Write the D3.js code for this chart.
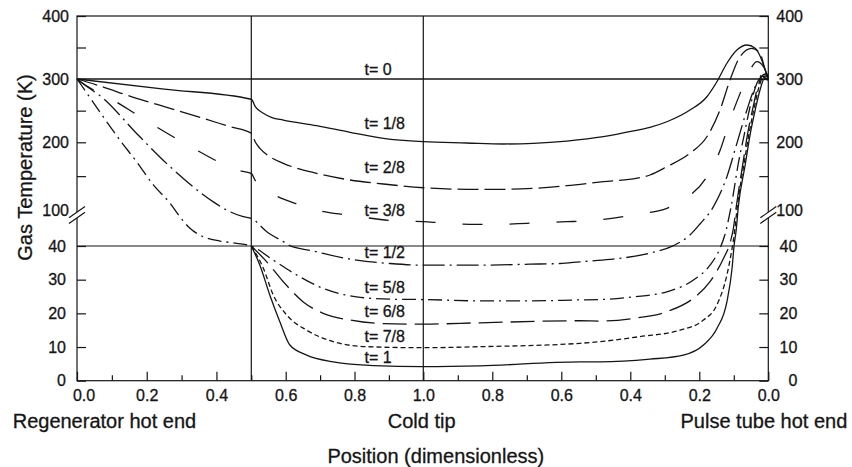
<!DOCTYPE html>
<html><head><meta charset="utf-8">
<script src="https://cdn.jsdelivr.net/npm/d3@7"></script>
<style>
body{margin:0;background:#fff;}
svg{display:block;font-family:"Liberation Sans",Arial,Helvetica,sans-serif;}
text{stroke:#151515;stroke-width:0.3px;}
</style></head><body>
<svg id="chart" width="852" height="467"></svg>
<script>
// Combined position s: 0..1 = regenerator (hot end -> cold tip),
// 1..2 = pulse tube (cold tip -> hot end); pulse tube coordinate = 2 - s.
const seriesNames = ["t= 0","t= 1/8","t= 2/8","t= 3/8","t= 1/2","t= 5/8","t= 6/8","t= 7/8","t= 1"];

const t0 = [[0,300],[2,300]];
const t1 = [[0,300],[0.25,284],[0.5,268],[0.512,256],[0.535,246],[0.56,239],[0.593,235.2],[0.69,226.2],[0.787,215.8],[0.884,206.3],[1,201],[1.126,199],[1.232,197.5],[1.319,198.5],[1.416,202],[1.522,208.8],[1.609,217.9],[1.657,223.7],[1.706,232.5],[1.773,251],[1.822,272],[1.851,295.7],[1.88,325],[1.909,346],[1.938,354],[1.962,348.7],[1.981,330],[1.991,314.3],[2,303.7]];
const t2 = [[0,300],[0.057,290.5],[0.171,269.5],[0.267,253.7],[0.362,237.9],[0.439,224.6],[0.5,214.2],[0.512,200],[0.525,191],[0.554,178.7],[0.593,169],[0.69,154.2],[0.787,144.3],[0.884,138.4],[1,132.9],[1.126,130.6],[1.232,130.6],[1.319,132],[1.416,135.9],[1.522,141.8],[1.62,147],[1.657,151.7],[1.706,164],[1.773,183.8],[1.822,208.8],[1.86,251],[1.889,298.4],[1.918,335.4],[1.952,348.7],[1.976,340.8],[1.991,314.3],[2,301]];
const t3 = [[0,300],[0.009,296],[0.1,268],[0.147,252.1],[0.219,227.3],[0.334,191.1],[0.405,171.3],[0.458,159],[0.5,154],[0.512,143],[0.525,137],[0.559,124.7],[0.642,107.4],[0.69,100],[0.777,91.7],[0.826,87.8],[0.923,81.7],[1,80.5],[1.048,78.8],[1.135,76.2],[1.222,76.2],[1.3,77.8],[1.416,80.5],[1.474,81.7],[1.561,87.2],[1.619,92.8],[1.706,102.5],[1.754,114.8],[1.822,149.2],[1.86,187.8],[1.889,235.2],[1.918,276.9],[1.947,314.3],[1.967,327.5],[1.986,319.5],[2,303.7]];
const t4 = [[0,300],[0.009,296],[0.075,269.5],[0.171,214],[0.267,164],[0.391,112],[0.429,100],[0.477,88.8],[0.5,86.2],[0.545,63.8],[0.593,47.2],[0.612,40.5],[0.69,38.3],[0.709,37.8],[0.806,35.8],[0.903,34.8],[1,34.3],[1.164,34.3],[1.309,34.6],[1.396,34.8],[1.454,35.3],[1.541,36],[1.657,37.9],[1.725,40.5],[1.773,58.3],[1.802,76.7],[1.841,104.9],[1.88,149.2],[1.909,198.5],[1.938,251],[1.962,287.8],[1.981,303.7],[1.994,304.8],[2,300]];
const t5 = [[0,300],[0.032,274.7],[0.075,240.4],[0.123,203.6],[0.171,171.3],[0.219,137],[0.267,109.9],[0.295,88.8],[0.324,69.5],[0.362,55.5],[0.41,48.3],[0.458,44.5],[0.5,40],[0.564,35.8],[0.632,31.4],[0.709,27.4],[0.806,24.9],[0.903,24.2],[1,24.1],[1.164,23.7],[1.309,23.7],[1.454,24],[1.512,24.1],[1.609,24.9],[1.706,26.4],[1.783,29.9],[1.831,34.3],[1.86,39.3],[1.874,58.3],[1.892,104.4],[1.915,173.9],[1.93,211.5],[1.947,255.8],[1.965,290.5],[1.98,306.3],[1.991,309.5],[2,300]];
const t6 = [[0.5,40],[0.545,35.3],[0.593,29.4],[0.651,23.4],[0.709,20],[0.787,18],[0.874,17],[1,16.8],[1.164,17.2],[1.454,17.8],[1.512,17.7],[1.609,18.5],[1.706,20.5],[1.783,24.5],[1.831,29.4],[1.87,36.3],[1.889,45],[1.898,66.7],[1.907,104.4],[1.928,173.9],[1.941,216.3],[1.956,255.8],[1.97,289],[1.982,304.8],[1.991,307.9],[2,300]];
const t7 = [[0.5,40],[0.535,33.4],[0.564,25.4],[0.603,19.5],[0.661,15],[0.738,11.6],[0.835,10.1],[1,9.8],[1.164,10.1],[1.454,11.1],[1.512,11.6],[1.628,13.1],[1.744,15],[1.812,18],[1.851,22.5],[1.88,31.4],[1.895,39.3],[1.901,58.3],[1.91,104.4],[1.93,169.4],[1.944,213],[1.959,254.2],[1.973,287.4],[1.985,303],[2,298]];
const t8 = [[0.5,40],[0.525,34.3],[0.554,25.4],[0.583,17.5],[0.612,10.6],[0.661,7.6],[0.738,5.6],[0.855,4.5],[1,4.2],[1.164,4.4],[1.454,5.6],[1.512,5.6],[1.657,6.4],[1.754,7.6],[1.812,10.6],[1.851,15.5],[1.88,23.4],[1.895,33.4],[1.901,41.7],[1.907,66.7],[1.913,104.4],[1.933,166.5],[1.947,211.5],[1.962,251],[1.976,282.6],[1.988,300],[2,298]];

const seriesData = [t0,t1,t2,t3,t4,t5,t6,t7,t8];
const seriesDash = [null,null,"21,6","20,27","22,5,2,5","14,5,2,5","24,8","5,3",null];

// series label anchors (position s, temperature K)
const labelPos = 0.829;
const labelTemps = [306,221,155,90,36.3,25.9,18.8,11.6,5.3];

// axis ticks
const xMajor = [0,0.2,0.4,0.6,0.8,1.0,1.2,1.4,1.6,1.8,2.0];
const xMinor = [0.1,0.3,0.5,0.7,0.9,1.1,1.3,1.5,1.7,1.9];
const yLowTicks = [0,10,20,30,40];
const yHighTicks = [100,150,200,250,300,350,400];
const yHighLabels = [100,200,300,400];

const ink = "#151515";
const svg = d3.select("#chart");
const x = d3.scaleLinear().domain([0,0.5,1,2]).range([77,251.3,423.3,768.3]);
const y = d3.scaleLinear().domain([0,40,100,200,300,400]).range([380.7,246,210,142.3,79,16]);

// frame
svg.append("rect").attr("x",x(0)).attr("y",y(400))
  .attr("width",x(2)-x(0)).attr("height",y(0)-y(400))
  .attr("fill","none").attr("stroke",ink).attr("stroke-width",1.2);

// reference lines
svg.append("line").attr("x1",x(0)).attr("x2",x(2)).attr("y1",y(40)).attr("y2",y(40))
  .attr("stroke",ink).attr("stroke-width",1.2);
[0.5,1].forEach(v=>{
  svg.append("line").attr("x1",x(v)).attr("x2",x(v)).attr("y1",y(0)).attr("y2",y(400))
    .attr("stroke",ink).attr("stroke-width",1.2);
});

// axes
function styleAxis(g){
  g.select(".domain").remove();
  g.style("color",ink).attr("font-size",16).attr("font-family","'Liberation Sans',Arial,Helvetica,sans-serif");
  g.selectAll(".tick line").attr("stroke-width",1.2);
}
const fmtX = v => (v<=1 ? v : 2-v).toFixed(1);
const axB = svg.append("g").attr("transform",`translate(0,${y(0)})`)
  .call(d3.axisBottom(x).tickValues(xMajor).tickFormat(fmtX).tickSize(-9).tickPadding(9)).call(styleAxis);
axB.selectAll(".tick text").filter(d=>d===0).attr("dx",6.5);
svg.append("g").attr("transform",`translate(0,${y(0)})`)
  .call(d3.axisBottom(x).tickValues(xMinor).tickFormat(()=>"").tickSize(-5.5)).call(styleAxis);

svg.append("g").attr("transform",`translate(${x(0)},0)`)
  .call(d3.axisLeft(y).tickValues(yLowTicks).tickSize(-9).tickPadding(11)).call(styleAxis);
const axLU = svg.append("g").attr("transform",`translate(${x(0)},0)`)
  .call(d3.axisLeft(y).tickValues(yHighTicks).tickFormat(v=>yHighLabels.includes(v)?v:"").tickSize(-9).tickPadding(8)).call(styleAxis);
axLU.selectAll(".tick").filter(d=>d===100).select("line").remove();

const axRL = svg.append("g").attr("transform",`translate(${x(2)},0)`)
  .call(d3.axisRight(y).tickValues(yLowTicks).tickSize(-9).tickPadding(11)).call(styleAxis);
axRL.selectAll(".tick text").attr("text-anchor","end").attr("x",29);
const axRU = svg.append("g").attr("transform",`translate(${x(2)},0)`)
  .call(d3.axisRight(y).tickValues(yHighTicks).tickFormat(v=>yHighLabels.includes(v)?v:"").tickSize(-9).tickPadding(8)).call(styleAxis);
axRU.selectAll(".tick").filter(d=>d===100).select("line").remove();

// axis breaks
[x(0),x(2)].forEach(cx=>{
  const cy = 215, h = 2.8, dx = 8, dy = 5.6;
  const A = [[cx-dx,cy+h+dy],[cx+dx,cy+h-dy]];
  const B = [[cx-dx,cy-h+dy],[cx+dx,cy-h-dy]];
  svg.append("polygon").attr("points",[A[0],A[1],B[1],B[0]].map(p=>p.join(",")).join(" "))
    .attr("fill","#fff");
  [A,B].forEach(L=>svg.append("line").attr("x1",L[0][0]).attr("y1",L[0][1]).attr("x2",L[1][0]).attr("y2",L[1][1])
    .attr("stroke",ink).attr("stroke-width",1.2));
});

// curves
const line = d3.line().x(d=>x(d[0])).y(d=>y(d[1])).curve(d3.curveMonotoneX);
seriesData.forEach((d,i)=>{
  svg.append("path").datum(d).attr("d",line)
    .attr("fill","none").attr("stroke",ink).attr("stroke-width",1.3)
    .attr("stroke-dasharray",seriesDash[i]);
});

// series labels
seriesNames.forEach((n,i)=>{
  svg.append("text").attr("x",x(labelPos)).attr("y",y(labelTemps[i]))
    .attr("font-size",16).attr("fill",ink).text(n);
});

// titles
svg.append("text").attr("transform","translate(32,167.5) rotate(-90)").attr("text-anchor","middle")
  .attr("font-size",20).attr("fill",ink).text("Gas Temperature (K)");
svg.append("text").attr("x",12.7).attr("y",428).attr("font-size",20).attr("fill",ink).text("Regenerator hot end");
svg.append("text").attr("x",421.7).attr("y",427.5).attr("text-anchor","middle").attr("font-size",20).attr("fill",ink).text("Cold tip");
svg.append("text").attr("x",847.3).attr("y",428).attr("text-anchor","end").attr("font-size",20).attr("fill",ink).text("Pulse tube hot end");
svg.append("text").attr("x",435.8).attr("y",463).attr("text-anchor","middle").attr("font-size",20).attr("fill",ink).text("Position (dimensionless)");
</script>
</body></html>
